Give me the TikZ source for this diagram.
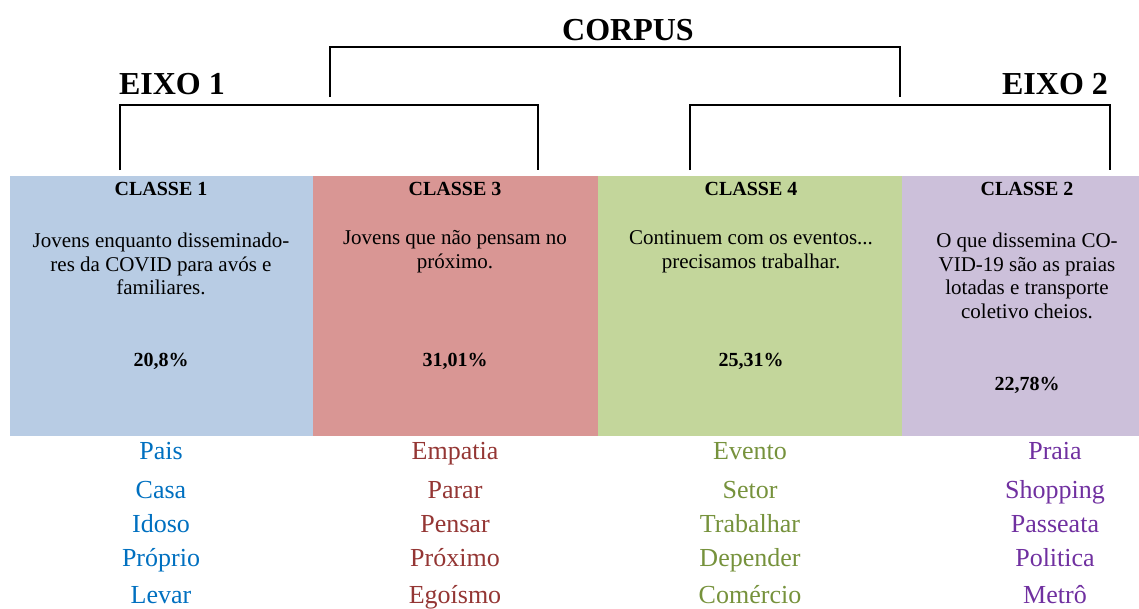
\documentclass[tikz,border=0pt]{standalone}
\usepackage{fontspec}
\setmainfont{Liberation Serif}
\usepackage{tikz}
\usepackage{xcolor}
\usetikzlibrary{positioning}

\definecolor{boxblue}{HTML}{B8CCE4}
\definecolor{boxred}{HTML}{D99694}
\definecolor{boxgreen}{HTML}{C3D69B}
\definecolor{boxpurple}{HTML}{CCC0DA}
\definecolor{wordblue}{HTML}{0070C0}
\definecolor{wordred}{HTML}{943634}
\definecolor{wordgreen}{HTML}{76923C}
\definecolor{wordpurple}{HTML}{7030A0}

\begin{document}
\begin{tikzpicture}[x=1pt,y=-1pt,node distance=-0.3pt,
    classbox/.style={rectangle,inner sep=0pt,outer sep=0pt,minimum height=260pt},
    heading/.style={font=\fontsize{32}{38}\selectfont\bfseries},
    classtitle/.style={font=\fontsize{20}{24}\selectfont\bfseries},
    desc/.style={align=center,font=\fontsize{21}{23.7}\selectfont},
    pct/.style={font=\fontsize{20}{24}\selectfont\bfseries},
    word/.style={font=\fontsize{26}{30}\selectfont,anchor=base},
    bracket/.style={black,line width=1.5pt}]

\clip (0,0) rectangle (1139,608);

% ---------- classes ----------
\node[classbox,fill=boxblue,minimum width=303pt] (c1) at (161.5,306) {};
\node[classbox,fill=boxred,minimum width=286pt,right=of c1] (c3) {};
\node[classbox,fill=boxgreen,minimum width=304pt,right=of c3] (c4) {};
\node[classbox,fill=boxpurple,minimum width=248pt,right=of c4] (c2) {};

\node[classtitle] (t1) at (161,189) {CLASSE 1};
\node[classtitle] (t3) at (455,189) {CLASSE 3};
\node[classtitle] (t4) at (751,189) {CLASSE 4};
\node[classtitle] (t2) at (1027,189) {CLASSE 2};

\node[desc] (d1) at (161,264) {Jovens enquanto disseminado-\\res da COVID para avós e\\familiares.};
\node[desc] (d3) at (455,252) {Jovens que não pensam no\\próximo.};
\node[desc] (d4) at (751,252) {Continuem com os eventos...\\precisamos trabalhar.};
\node[desc] (d2) at (1027,276) {O que dissemina CO-\\VID-19 são as praias\\lotadas e transporte\\coletivo cheios.};

\node[pct] (p1) at (161,361) {20,8\%};
\node[pct] (p3) at (455,361) {31,01\%};
\node[pct] (p4) at (751,361) {25,31\%};
\node[pct] (p2) at (1027,385) {22,78\%};

% ---------- dendrogram ----------
\node[heading] (corpus) at (628,30) {CORPUS};
\node[heading] (eixo1) at (172,84) {EIXO 1};
\node[heading] (eixo2) at (1055,84) {EIXO 2};

\coordinate (e1a) at (120,170);
\coordinate (e1b) at (538,170);
\coordinate (cpa) at (330,97);
\coordinate (cpb) at (900,97);
\coordinate (e2a) at (690,170);
\coordinate (e2b) at (1110,170);

\draw[bracket] (e1a) -- ++(0,-65) -| (e1b);
\draw[bracket] (cpa) -- ++(0,-50) -| (cpb);
\draw[bracket] (e2a) -- ++(0,-65) -| (e2b);

% ---------- words (baselines) ----------
\foreach \w/\y [count=\i] in {Pais/459,Casa/498,Idoso/532,Próprio/566,Levar/603}
    \node[word,text=wordblue] (wa-\i) at (161,\y) {\w};
\foreach \w/\y [count=\i] in {Empatia/459,Parar/498,Pensar/532,Próximo/566,Egoísmo/603}
    \node[word,text=wordred] (wb-\i) at (455,\y) {\w};
\foreach \w/\y [count=\i] in {Evento/459,Setor/498,Trabalhar/532,Depender/566,Comércio/603}
    \node[word,text=wordgreen] (wc-\i) at (750,\y) {\w};
\foreach \w/\y [count=\i] in {Praia/459,Shopping/498,Passeata/532,Politica/566,Metrô/603}
    \node[word,text=wordpurple] (wd-\i) at (1055,\y) {\w};

\end{tikzpicture}
\end{document}
